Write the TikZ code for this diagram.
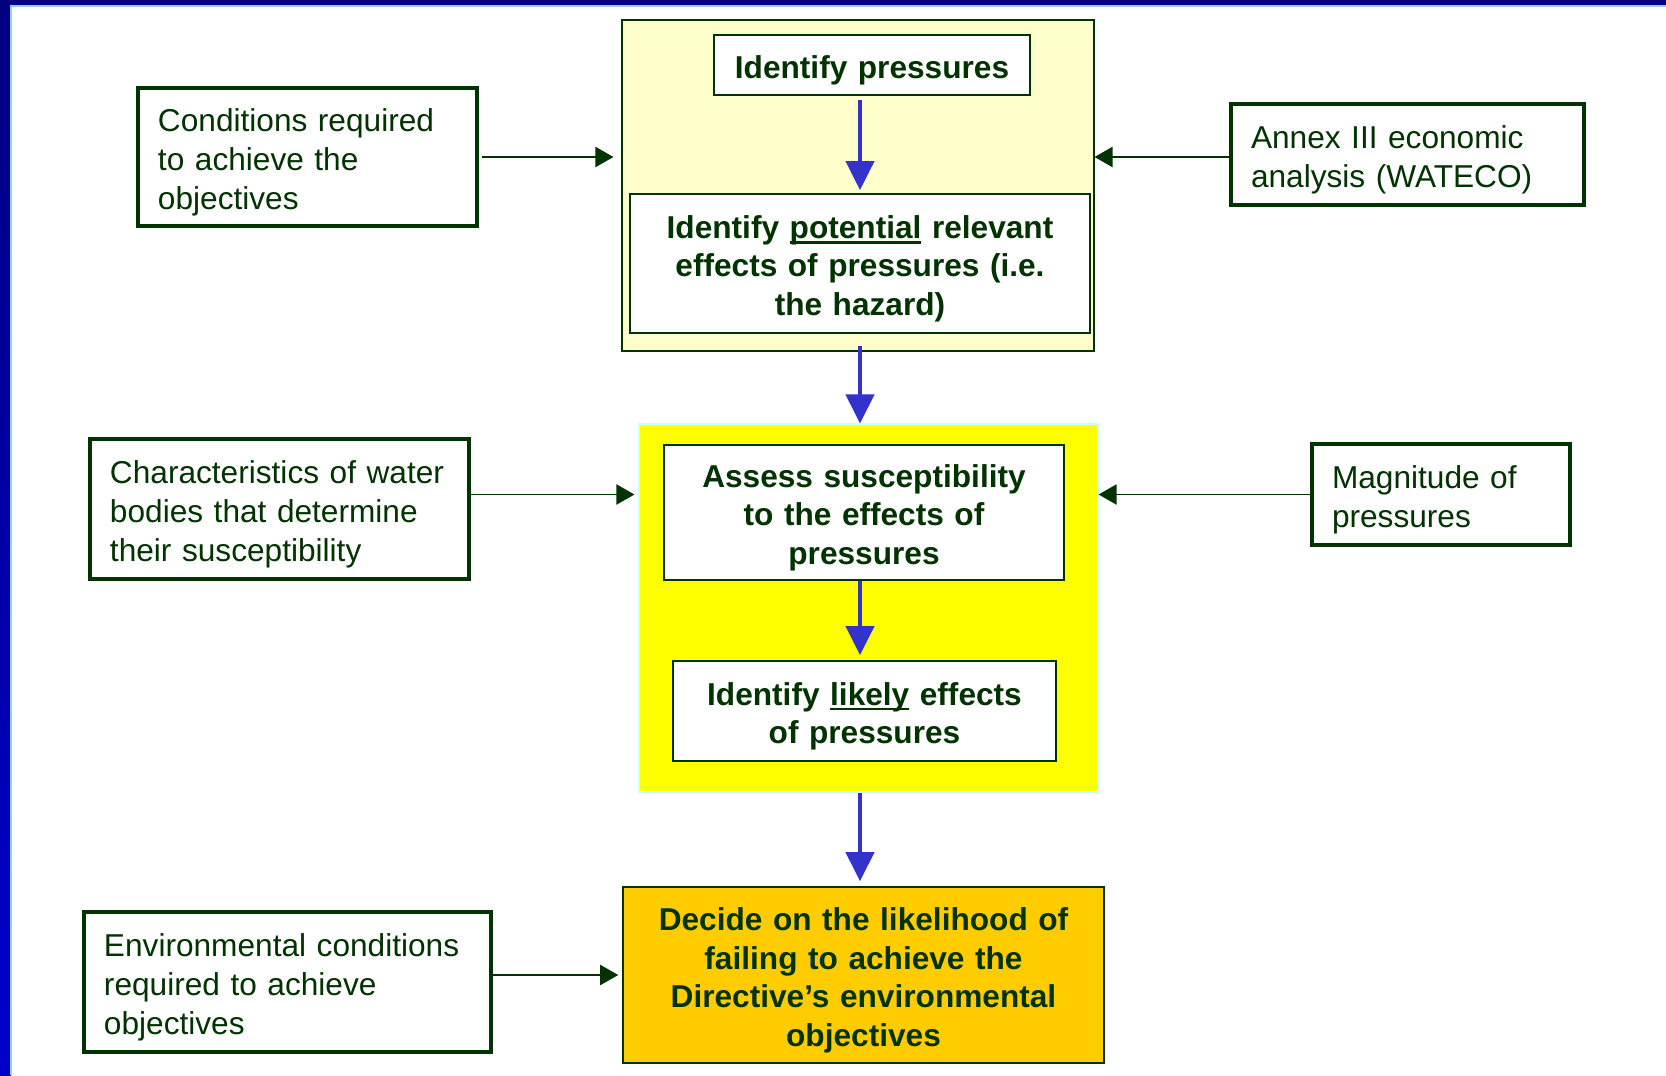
\documentclass[tikz,border=0pt]{standalone}
\usepackage{fontspec}
\setmainfont{Liberation Sans}
\newcommand\thickul[1]{\setbox0\hbox{#1}\rlap{\rule[-3pt]{\wd0}{1.4pt}}\box0\relax}
\usetikzlibrary{arrows.meta}
\definecolor{txtgreen}{HTML}{003300}
\definecolor{arrblue}{HTML}{3333CC}
\definecolor{paleyel}{HTML}{FFFFCC}
\definecolor{brightyel}{HTML}{FFFF00}
\definecolor{cyanedge}{HTML}{CCFFFF}
\definecolor{goldfill}{HTML}{FFCC00}
\definecolor{navyband}{HTML}{000080}
\definecolor{blueband}{HTML}{0000CC}
\definecolor{bandedge}{HTML}{99CCFF}
\begin{document}
\begin{tikzpicture}[x=0.2mm,y=-0.2mm,font=\fontsize{18}{22}\selectfont]
  \tikzstyle{side box}=[draw=txtgreen,line width=1.9pt,fill=white,text=txtgreen,align=left,inner xsep=4mm,inner ysep=0pt,
    execute at begin node=\rule{0pt}{19pt}]
  \tikzstyle{stage box}=[draw=txtgreen,line width=1pt,fill=white,text=txtgreen,align=center,inner sep=0pt,
    font=\fontsize{18}{22}\selectfont\bfseries,execute at begin node=\rule{0pt}{19pt}]
  \tikzstyle{feed}=[draw=txtgreen,line width=1.1pt,-{Triangle[length=3.6mm,width=4mm]}]
  \tikzstyle{flow}=[draw=arrblue,line width=2.4pt,-{Triangle[length=5.8mm,width=5.6mm]}]

  % page frame
  \useasboundingbox (0,0) rectangle (1666,1075);
  \fill[white] (0,0) rectangle (1666,1075);
  \fill[navyband] (0,0) rectangle (1666,5);
  \shade[top color=navyband,bottom color=blueband] (0,0) rectangle (11,1075);
  \draw[bandedge,line width=0.6pt] (11,1075) -- (11,6) -- (1666,6);

  % group boxes
  \node[draw=txtgreen,line width=0.6pt,fill=paleyel,minimum width=94.4mm,minimum height=66.2mm] (topgrp) at (858,185.5) {};
  \node[draw=cyanedge,line width=0.6pt,fill=brightyel,minimum width=91.8mm,minimum height=73.6mm] (yelgrp) at (868.5,608) {};

  % main steps
  \node[stage box,text width=63.2mm,minimum height=12mm] (pressures) at (872,65) {Identify pressures};
  \node[stage box,text width=92mm,minimum height=27.8mm] (potential) at (860,263.5)
    {Identify \thickul{potential} relevant\\effects of pressures (i.e.\\the hazard)};
  \node[stage box,text width=80mm,minimum height=27mm] (assess) at (864,512.5)
    {Assess susceptibility\\to the effects of\\pressures};
  \node[stage box,text width=76.6mm,minimum height=20mm] (likely) at (864.5,711)
    {Identify \thickul{likely} effects\\of pressures};
  \node[stage box,line width=0.9pt,fill=goldfill,text width=96.2mm,minimum height=35.2mm] (decide) at (863.5,975)
    {Decide on the likelihood of\\failing to achieve the\\Directive’s environmental\\objectives};

  % inputs
  \node[side box,text width=59.8mm,minimum height=27.6mm] (conditions) at (307.5,157)
    {Conditions required\\to achieve the\\objectives};
  \node[side box,text width=62.6mm,minimum height=20.2mm] (annex) at (1407.5,154.5)
    {Annex III economic\\analysis (WATECO)};
  \node[side box,text width=67.8mm,minimum height=28mm] (charac) at (279.5,509)
    {Characteristics of water\\bodies that determine\\their susceptibility};
  \node[side box,text width=43.6mm,minimum height=20.2mm] (magnitude) at (1441,494.5)
    {Magnitude of\\pressures};
  \node[side box,text width=73.4mm,minimum height=28mm] (environ) at (287.5,982)
    {Environmental conditions\\required to achieve\\objectives};

  % blue flow
  \draw[flow,shorten <=0.8mm,shorten >=0.6mm] (pressures.south -| potential.north) -- (potential.north);
  \draw[flow,shorten <=-1.2mm] (potential.south |- topgrp.south) -- (potential.south |- yelgrp.north);
  \draw[flow,shorten >=1mm] (assess.south -| potential) -- (likely.north -| potential);
  \draw[flow,shorten >=1mm] (yelgrp.south -| potential) -- (decide.north -| potential);

  % side arrows
  \draw[feed,shorten <=0.6mm,shorten >=1.6mm] (conditions.east) -- (conditions.east -| topgrp.west);
  \draw[feed] (annex.west |- conditions.east) -- (topgrp.east |- conditions.east);
  \draw[feed,shorten >=0.8mm] (charac.east |- magnitude.west) -- (yelgrp.west |- magnitude.west);
  \draw[feed] (magnitude.west) -- (magnitude.west -| yelgrp.east);
  \draw[feed,shorten >=0.8mm] (environ.east |- decide.west) -- (decide.west);
\end{tikzpicture}
\end{document}
